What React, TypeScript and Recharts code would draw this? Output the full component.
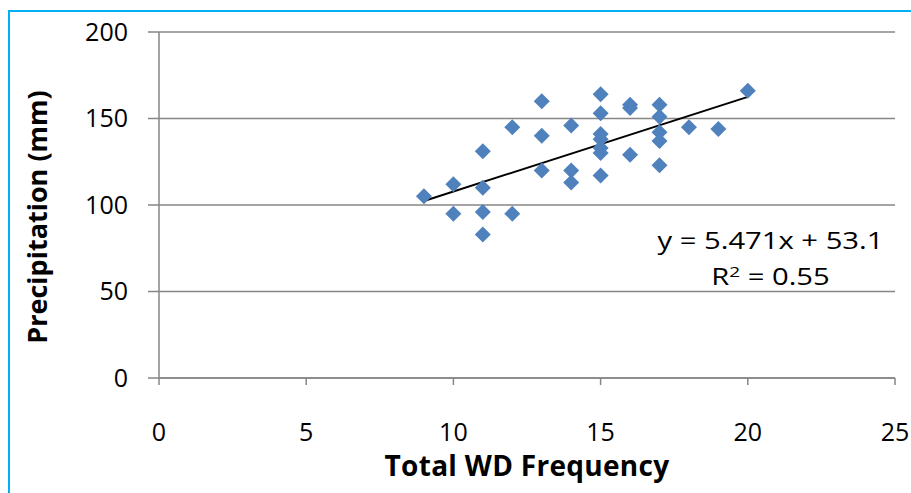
import React from "react";
import {
  ScatterChart,
  Scatter,
  XAxis,
  YAxis,
  CartesianGrid,
  ReferenceLine,
  Label,
} from "recharts";

// total WD frequency per season vs precipitation (mm)
const wdFrequency = [
  9, 10, 10, 11, 11, 11, 11, 12, 12, 13, 13, 13, 14, 14, 14, 15, 15, 15, 15, 15, 15, 15,
  16, 16, 16, 17, 17, 17, 17, 17, 18, 19, 20,
];
const precipitation = [
  105, 112, 95, 131, 110, 96, 83, 145, 95, 160, 140, 120, 146, 120, 113, 164, 153, 141, 138, 133, 130, 117,
  158, 156, 129, 158, 151, 142, 137, 123, 145, 144, 166,
];
const xTicks = [0, 5, 10, 15, 20, 25];
const yTicks = [0, 50, 100, 150, 200];
const slope = 5.471;
const intercept = 53.1;
const trendRange = [9, 20];

const points = wdFrequency.map((x, i) => ({ x, y: precipitation[i] }));

const font = "'Open Sans', sans-serif";
const axisGrey = "#868686";

// Excel-style diamond marker (square turned 45 degrees)
const Diamond = (props: any) => {
  const { cx, cy } = props;
  const r = 8;
  return (
    <polygon
      points={`${cx},${cy - r} ${cx + r},${cy} ${cx},${cy + r} ${cx - r},${cy}`}
      fill="#4f81bd"
    />
  );
};

const YTitle = (props: any) => {
  const { viewBox } = props;
  const cx = viewBox.x + 36;
  const cy = viewBox.y + viewBox.height / 2 + 12;
  return (
    <text
      x={cx}
      y={cy}
      transform={`rotate(-90 ${cx} ${cy})`}
      textAnchor="middle"
      dominantBaseline="central"
      style={{ fill: "#000", fontSize: 27, fontWeight: 700, fontFamily: font }}
    >
      Precipitation (mm)
    </text>
  );
};

export default function App() {
  return (
    <div style={{ position: "absolute", left: 0, top: 0, width: 911, height: 493, background: "#fff", overflow: "hidden" }}>
      {/* frame border, only top and left visible in the crop */}
      <div
        style={{
          position: "absolute",
          left: 8,
          top: 10,
          width: 920,
          height: 500,
          borderLeft: "2px solid #00b0f0",
          borderTop: "2px solid #00b0f0",
        }}
      />
      <ScatterChart
        width={911}
        height={493}
        margin={{ top: 32, right: 16, bottom: 55, left: 0 }}
        style={{ position: "absolute", left: 0, top: 0, fontFamily: font }}
      >
        <CartesianGrid vertical={false} stroke={axisGrey} strokeWidth={1.5} />
        <XAxis
          type="number"
          dataKey="x"
          domain={[0, 25]}
          ticks={xTicks}
          height={60}
          stroke={axisGrey}
          strokeWidth={1.5}
          tickSize={7}
          tickMargin={38}
          tick={{ fill: "#000", fontSize: 25, fontFamily: font }}
        >
          <Label
            value="Total WD Frequency"
            position="bottom"
            offset={18}
            style={{ fill: "#000", fontSize: 28, fontWeight: 700, fontFamily: font, letterSpacing: 0.3 }}
          />
        </XAxis>
        <YAxis
          type="number"
          dataKey="y"
          domain={[0, 200]}
          ticks={yTicks}
          width={159}
          stroke={axisGrey}
          strokeWidth={1.5}
          tickSize={11}
          tickMargin={20}
          tick={{ fill: "#000", fontSize: 25, fontFamily: font }}
        >
          <Label content={<YTitle />} />
        </YAxis>
        <Scatter data={points} shape={<Diamond />} isAnimationActive={false} />
        <ReferenceLine
          segment={[
            { x: trendRange[0], y: slope * trendRange[0] + intercept },
            { x: trendRange[1], y: slope * trendRange[1] + intercept },
          ]}
          stroke="#000"
          strokeWidth={2}
        />
      </ScatterChart>
      <div
        style={{
          position: "absolute",
          left: 640,
          top: 222,
          width: 262,
          textAlign: "center",
          fontFamily: font,
          fontSize: 23,
          lineHeight: "36px",
          color: "#000",
          transform: "scaleX(1.27)",
          transformOrigin: "133px 0",
        }}
      >
        <div>y = 5.471x + 53.1</div>
        <div>
          R<sup style={{ fontSize: 15, verticalAlign: "top", lineHeight: "26px" }}>2</sup> = 0.55
        </div>
      </div>
    </div>
  );
}
